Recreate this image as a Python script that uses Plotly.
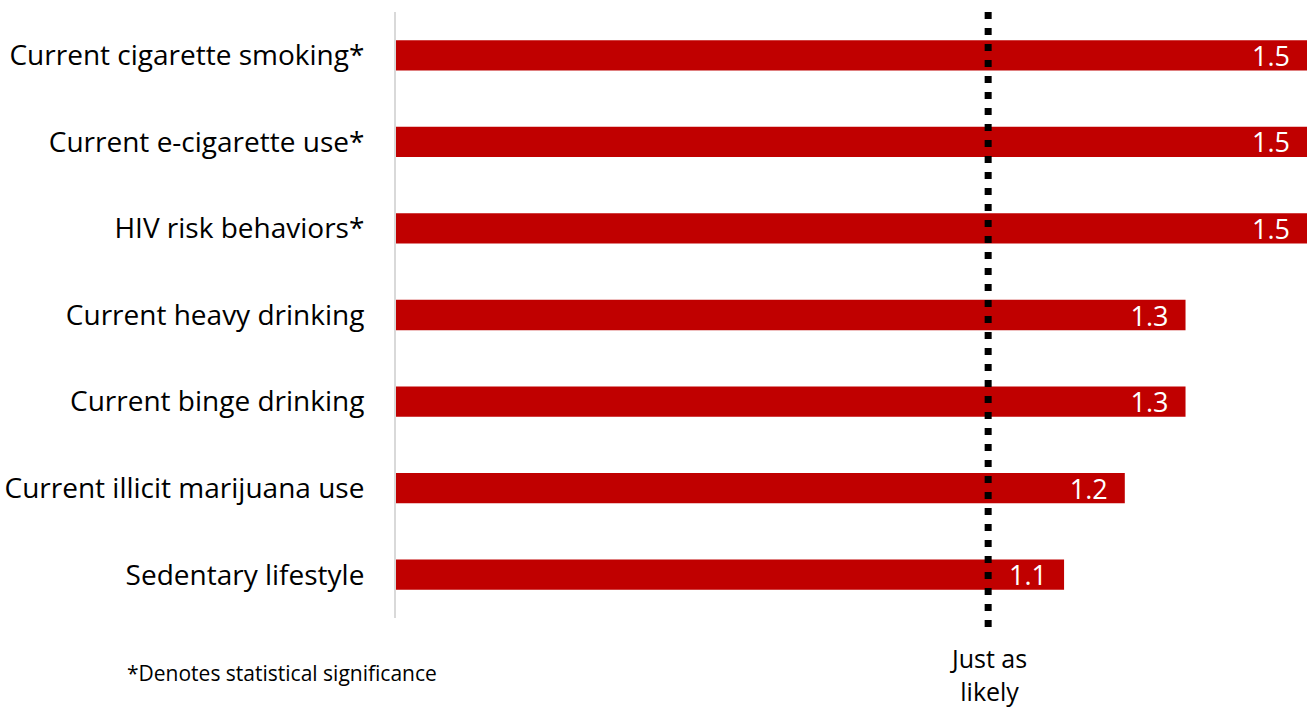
import plotly.graph_objects as go

categories = [
    "Current cigarette smoking*",
    "Current e-cigarette use*",
    "HIV risk behaviors*",
    "Current heavy drinking",
    "Current binge drinking",
    "Current illicit marijuana use",
    "Sedentary lifestyle",
]
values = [1.5, 1.5, 1.5, 1.3, 1.3, 1.2, 1.1]
value_labels = ["1.5", "1.5", "1.5", "1.3", "1.3", "1.2", "1.1"]
ref_value = 0.975  # "Just as likely" reference line as drawn in the original
ref_label = "Just as<br>likely"
footnote = "*Denotes statistical significance"

FONT = "Open Sans"

fig = go.Figure(
    go.Bar(
        x=values,
        y=categories,
        orientation="h",
        marker=dict(color="#C00000", line=dict(width=0)),
        width=0.35,
        text=value_labels,
        texttemplate="%{text}&nbsp;&nbsp;",
        textposition="inside",
        insidetextanchor="end",
        textfont=dict(color="white", size=27, family=FONT),
        constraintext="none",
        hoverinfo="skip",
    )
)

fig.add_shape(
    type="line",
    xref="x", yref="paper",
    x0=ref_value, x1=ref_value, y0=1.0, y1=-0.02,
    line=dict(color="black", width=7, dash="7px,9px"),
    layer="above",
)

fig.add_annotation(
    x=ref_value, xref="x", y=-0.035, yref="paper",
    text=ref_label, showarrow=False, yanchor="top", xanchor="center",
    font=dict(size=25, color="black", family=FONT),
)
fig.add_annotation(
    x=-0.298, xref="paper", y=-0.09, yref="paper",
    text=footnote, showarrow=False, xanchor="left", yanchor="middle",
    font=dict(size=21, color="black", family=FONT),
)

fig.update_layout(
    width=1313, height=709,
    margin=dict(l=396, r=6, t=12, b=91, autoexpand=False),
    plot_bgcolor="white", paper_bgcolor="white",
    showlegend=False,
    xaxis=dict(range=[0, 1.5], visible=False, fixedrange=True, automargin=False),
    yaxis=dict(
        categoryorder="array", categoryarray=categories, autorange="reversed",
        showline=True, linecolor="#d9d9d9", linewidth=2, automargin=False,
        showgrid=False, ticks="", ticklabelstandoff=24,
        tickfont=dict(size=28, color="black", family=FONT),
    ),
    bargap=0.65,
)

fig.write_html("out.html")
